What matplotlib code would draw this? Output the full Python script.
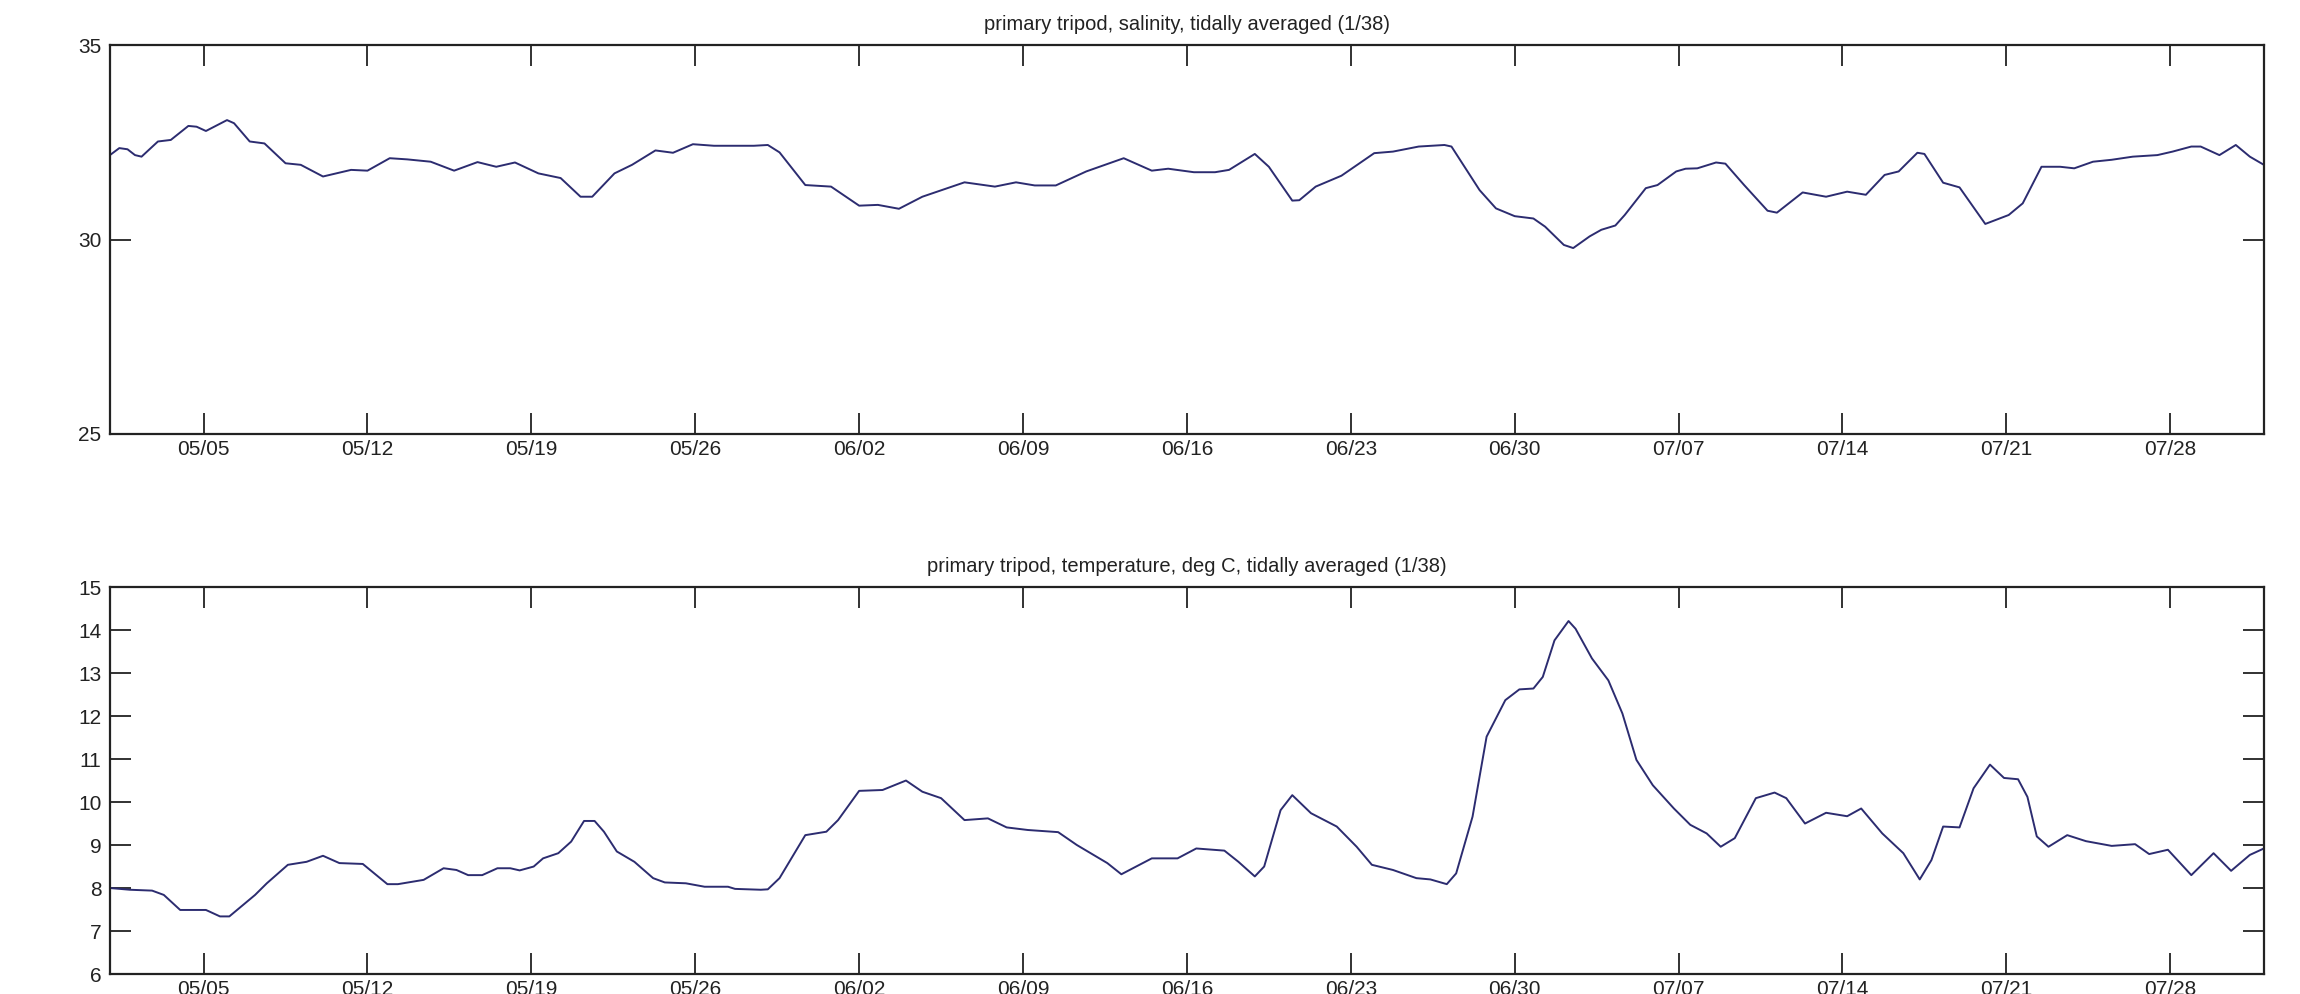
import datetime
import matplotlib
matplotlib.use('Agg')
import matplotlib.pyplot as plt

plt.rcParams['font.family'] = ['Liberation Sans Narrow', 'Liberation Sans', 'DejaVu Sans']

# === 数据（时间 = 距 5 月 1 日的天数）===
START = datetime.datetime(2003, 5, 1)

sal_t = [0.0, 0.4, 0.75, 1.07, 1.35, 2.05, 2.6, 3.35, 3.7, 4.1, 5.0, 5.3, 5.97, 6.6,
         7.5, 8.15, 9.1, 10.3, 11.0, 11.95, 12.7, 13.7, 14.7, 15.7, 16.5, 17.3, 18.3,
         19.25, 20.1, 20.6, 21.55, 22.3, 23.3, 24.05, 24.9, 25.8, 27.5, 28.1, 28.6,
         29.7, 30.8, 32.0, 32.8, 33.7, 34.7, 36.5, 37.8, 38.7, 39.5, 40.4, 41.7, 43.3,
         44.5, 45.2, 46.3, 47.2, 47.8, 48.9, 49.5, 50.5, 50.8, 51.5, 52.6, 54.0, 54.8,
         55.9, 57.0, 57.3, 58.5, 59.2, 60.0, 60.8, 61.3, 62.1, 62.5, 63.2, 63.7, 64.3,
         64.7, 65.6, 66.1, 66.9, 67.3, 67.8, 68.6, 69.0, 69.8, 70.8, 71.2, 72.3, 73.3,
         74.2, 75.0, 75.8, 76.4, 77.2, 77.5, 78.3, 79.0, 80.1, 81.1, 81.7, 82.5, 83.3,
         83.9, 84.7, 85.5, 86.4, 87.45, 88.1, 88.9, 89.3, 90.1, 90.8, 91.4, 92.0]
sal_v = [32.17, 32.35, 32.32, 32.17, 32.13, 32.52, 32.56, 32.92, 32.90, 32.79, 33.07, 32.99,
         32.52, 32.47, 31.96, 31.92, 31.62, 31.79, 31.77, 32.09, 32.06, 32.00, 31.77, 31.99,
         31.87, 31.98, 31.70, 31.58, 31.10, 31.10, 31.70, 31.92, 32.29, 32.23, 32.45, 32.41,
         32.41, 32.43, 32.24, 31.40, 31.36, 30.87, 30.89, 30.79, 31.10, 31.47, 31.36, 31.47,
         31.39, 31.39, 31.75, 32.09, 31.77, 31.82, 31.73, 31.73, 31.79, 32.20, 31.87, 31.00,
         31.01, 31.36, 31.64, 32.22, 32.26, 32.39, 32.43, 32.39, 31.27, 30.80, 30.60, 30.54,
         30.33, 29.86, 29.78, 30.08, 30.25, 30.36, 30.63, 31.32, 31.40, 31.75, 31.82, 31.83,
         31.98, 31.95, 31.40, 30.74, 30.69, 31.21, 31.10, 31.23, 31.15, 31.66, 31.75, 32.23,
         32.20, 31.46, 31.34, 30.40, 30.63, 30.93, 31.87, 31.87, 31.83, 32.00, 32.05, 32.13,
         32.17, 32.26, 32.39, 32.39, 32.17, 32.43, 32.13, 31.92]

temp_t = [0.0, 0.85, 1.8, 2.3, 3.0, 4.1, 4.7, 5.1, 6.2, 6.7, 7.6, 8.4, 9.1, 9.8, 10.8,
          11.85, 12.3, 13.4, 14.25, 14.8, 15.3, 15.9, 16.55, 17.1, 17.5, 18.1, 18.5, 19.15,
          19.7, 20.25, 20.7, 21.1, 21.65, 22.4, 23.2, 23.7, 24.6, 25.4, 26.4, 26.7, 27.8,
          28.1, 28.6, 29.7, 30.6, 31.1, 32.0, 33.0, 34.0, 34.7, 35.5, 36.5, 37.5, 38.3,
          39.2, 40.5, 41.3, 42.6, 43.2, 44.5, 45.6, 46.4, 47.6, 48.2, 48.9, 49.3, 50.0,
          50.5, 51.3, 52.4, 53.25, 53.9, 54.8, 55.8, 56.4, 57.1, 57.5, 58.2, 58.8, 59.6,
          60.2, 60.8, 61.2, 61.7, 62.3, 62.6, 63.3, 64.0, 64.6, 65.2, 65.9, 66.8, 67.5,
          68.2, 68.8, 69.4, 70.3, 71.1, 71.6, 72.4, 73.3, 74.2, 74.8, 75.7, 76.6, 77.3,
          77.8, 78.3, 79.0, 79.6, 80.3, 80.9, 81.5, 81.9, 82.3, 82.8, 83.6, 84.4, 85.5,
          86.5, 87.1, 87.9, 88.9, 89.85, 90.6, 91.4, 92.0]
temp_v = [8.00, 7.96, 7.94, 7.84, 7.49, 7.49, 7.34, 7.34, 7.84, 8.11, 8.54, 8.61, 8.75, 8.58,
          8.56, 8.09, 8.09, 8.19, 8.46, 8.42, 8.30, 8.30, 8.46, 8.46, 8.41, 8.50, 8.69, 8.81,
          9.08, 9.56, 9.56, 9.31, 8.85, 8.61, 8.23, 8.13, 8.11, 8.03, 8.03, 7.98, 7.96, 7.97,
          8.23, 9.23, 9.31, 9.58, 10.26, 10.28, 10.50, 10.24, 10.09, 9.58, 9.62, 9.41, 9.35,
          9.30, 9.00, 8.58, 8.32, 8.69, 8.69, 8.92, 8.87, 8.61, 8.27, 8.50, 9.81, 10.16, 9.74,
          9.43, 8.96, 8.54, 8.42, 8.23, 8.20, 8.09, 8.34, 9.66, 11.52, 12.37, 12.62, 12.64,
          12.91, 13.76, 14.21, 14.03, 13.34, 12.83, 12.06, 10.98, 10.39, 9.85, 9.47, 9.27,
          8.96, 9.16, 10.09, 10.22, 10.09, 9.50, 9.75, 9.67, 9.85, 9.27, 8.81, 8.20, 8.65,
          9.43, 9.41, 10.32, 10.87, 10.56, 10.53, 10.12, 9.20, 8.96, 9.23, 9.09, 8.98, 9.02,
          8.79, 8.89, 8.30, 8.81, 8.40, 8.77, 8.92]

tick_labels = ['05/05', '05/12', '05/19', '05/26', '06/02', '06/09', '06/16',
               '06/23', '06/30', '07/07', '07/14', '07/21', '07/28']
sal_yticks = [25, 30, 35]
temp_yticks = [6, 7, 8, 9, 10, 11, 12, 13, 14, 15]

titles = ['primary tripod, salinity, tidally averaged (1/38)',
          'primary tripod, temperature, deg C, tidally averaged (1/38)']


def to_dates(days):
    return [START + datetime.timedelta(days=d) for d in days]


tick_pos = [datetime.datetime.strptime('2003/' + s, '%Y/%m/%d') for s in tick_labels]

fig = plt.figure(figsize=(23, 9.94), dpi=100)
ax1 = fig.add_axes([0.0478, 0.5634, 0.9365, 0.3913])
ax2 = fig.add_axes([0.0478, 0.0201, 0.9365, 0.3893])

LINE = '#2c2c70'
panels = [(ax1, sal_t, sal_v, sal_yticks, titles[0]),
          (ax2, temp_t, temp_v, temp_yticks, titles[1])]

for ax, t, v, yt, title in panels:
    ax.plot(to_dates(t), v, color=LINE, linewidth=1.4)
    ax.set_xlim(START, START + datetime.timedelta(days=92))
    ax.set_ylim(yt[0], yt[-1])
    ax.set_yticks(yt)
    ax.set_yticklabels([str(y) for y in yt])
    ax.set_xticks(tick_pos)
    ax.set_xticklabels(tick_labels)
    ax.tick_params(direction='in', length=15, width=1.3, top=True, right=True,
                   labelsize=15, colors='#222222', pad=4)
    ax.tick_params(axis='y', pad=6)
    for sp in ax.spines.values():
        sp.set_linewidth(1.6)
        sp.set_color('#222222')
    ax.set_title(title, fontsize=14.5, pad=11, color='#222222')

plt.savefig('out.png', dpi=100)
